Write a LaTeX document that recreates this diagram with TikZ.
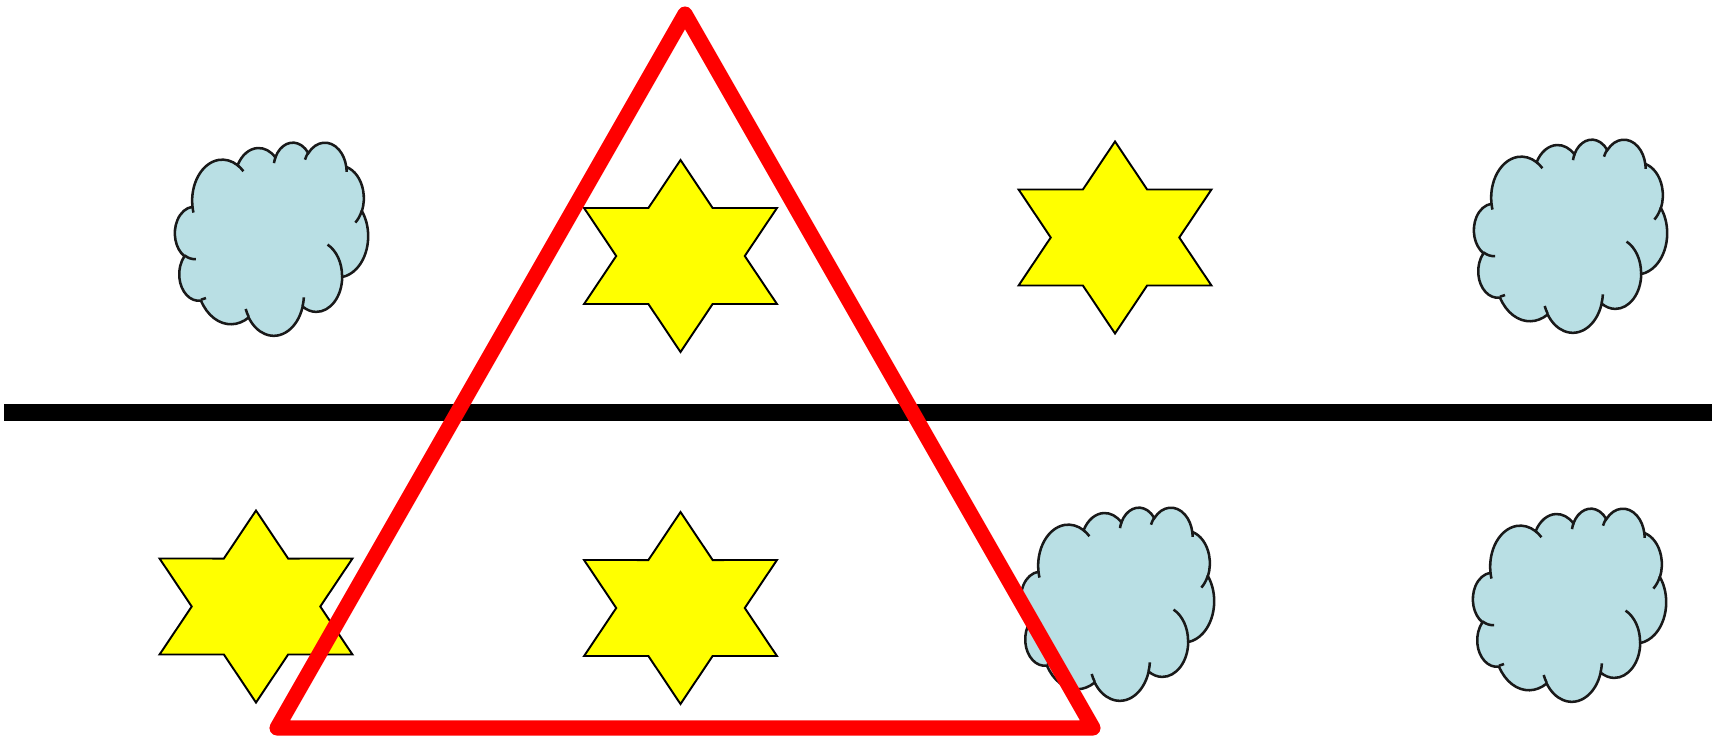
\documentclass[tikz,border=0pt]{standalone}
\usetikzlibrary{calc}
\definecolor{skyfill}{RGB}{185,223,228}
\definecolor{starfill}{RGB}{255,255,0}
\definecolor{trired}{RGB}{255,0,0}
\newcommand{\ooarc}[4]{arc[x radius=#1,y radius=#2,start angle={atan2(#1*sin(#3),#2*cos(#3))},delta angle={mod(atan2(#1*sin(#3+#4),#2*cos(#3+#4))-atan2(#1*sin(#3),#2*cos(#3))+720,360)}]}

\begin{document}
\begin{tikzpicture}[x=0.01cm,y=-0.01cm,
  starline/.style={draw=black,line width=0.55pt,fill=starfill,line join=miter},
  cloudline/.style={draw=black!90,line width=0.72pt},
  divider/.style={draw=black,line width=4.7pt},
  redline/.style={draw=trired,line width=4.3pt,line join=round},
  hexstar/.pic={
    \path[starline] (90:96) \foreach \a in {0,60,...,300} {-- (\a+120:55.4) -- (\a+150:96)} -- cycle;
  },
  cloud/.pic={
    \path[cloudline,fill=skyfill] (3.9,14.37)
      \ooarc{6.753}{9.19}{-190.4875}{123.7805}
      \ooarc{5.333}{7.267}{-144.1024}{89.9452}
      \ooarc{4.365}{5.945}{-145.8079}{99.723}
      \ooarc{4.857}{6.595}{-130.9861}{117.2417}
      \ooarc{5.333}{7.273}{-78.7089}{109.0269}
      \ooarc{6.775}{9.22}{-46.2673}{130.269}
      \ooarc{5.785}{7.867}{0.625}{114.0333}
      \ooarc{6.752}{9.215}{22.4516}{115.1726}
      \ooarc{7.72}{10.543}{66.2426}{75.711}
      \ooarc{4.36}{5.918}{-274.9421}{146.7356}
      \ooarc{4.345}{5.945}{-246.8285}{152.5189} -- cycle;
    \path[cloudline]
      (4.693,26.177) \ooarc{4.345}{5.945}{86.742}{26.4295}
      (6.928,34.899) \ooarc{4.36}{5.918}{73.6105}{11.4475}
      (16.478,39.09) \ooarc{6.752}{9.215}{137.6242}{14.0811}
      (28.827,34.751) \ooarc{6.752}{9.215}{6.4533}{15.9984}
      (34.129,22.954) \ooarc{5.785}{7.867}{-70.2924}{70.9174}
      (41.798,15.354) \ooarc{5.333}{7.273}{30.318}{27.7515}
      (38.324,5.426) \ooarc{4.857}{6.595}{-13.7443}{14.8589}
      (29.078,3.952) \ooarc{4.857}{6.595}{-149.1815}{18.1954}
      (22.141,4.72) \ooarc{4.365}{5.945}{-163.4943}{17.6864}
      (14,5.192) \ooarc{6.753}{9.19}{-66.707}{12.3194}
      (4.127,15.789) \ooarc{6.753}{9.19}{157.6544}{11.8582};
  }
]
  \useasboundingbox (0,0) rectangle (1716,742);
  % Dividing line
  \coordinate (west) at (4,412.5);
  \coordinate (east) at (1712,412.5);
  \draw[divider] (west) -- (east);
  % Stars
  \pic[xscale=1.16] (starA) at (680.5,256) {hexstar};
  \pic[xscale=1.16] (starB) at (1115,237.5) {hexstar};
  \pic[xscale=1.16] (starC) at (256,606.5) {hexstar};
  \pic[xscale=1.16] (starD) at (680.5,608) {hexstar};
  % Clouds
  \pic[scale=4.47] (cloudA) at (175,142) {cloud};
  \pic[scale=4.47] (cloudB) at (1474,139) {cloud};
  \pic[scale=4.47] (cloudC) at (1021,507) {cloud};
  \pic[scale=4.47] (cloudD) at (1473,508) {cloud};
  % Triangle
  \coordinate (apex) at (685,14);
  \coordinate (lowleft) at (277,728);
  \coordinate (lowright) at (1093,728);
  \draw[redline] (apex) -- (lowright) -- (lowleft) -- cycle;
\end{tikzpicture}
\end{document}
